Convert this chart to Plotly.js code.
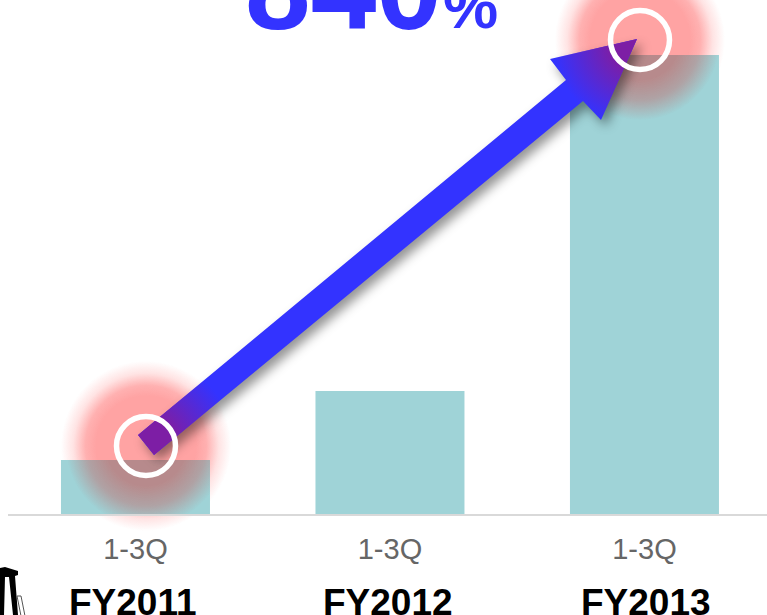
<!DOCTYPE html>
<html><head><meta charset="utf-8">
<script src="https://cdn.plot.ly/plotly-3.0.1.min.js"></script>
<style>html,body{margin:0;padding:0;background:#fff;overflow:hidden}</style></head>
<body><div id="chart" style="width:767px;height:615px"></div>
<script>
const categories = ['FY2011', 'FY2012', 'FY2013'];
const values = [100, 228, 850];
const tickLabels = ['1-3Q', '1-3Q', '1-3Q'];
const growthText = '840';
const W = 767, H = 615, L = 8, B = 101;
const glowCentres = [[146, 446], [640, 40]];
const barRects = [[61, 460, 149, 54], [570, 55, 149, 459]];
const labelShift = [-2, -2, 2];

function layerCanvas() {
  const c = document.createElement('canvas'); c.width = W; c.height = H;
  return c;
}
function belowGlow() {
  const c = layerCanvas(), g = c.getContext('2d');
  glowCentres.forEach(([x, y]) => {
    const r = g.createRadialGradient(x, y, 50, x, y, 85);
    r.addColorStop(0, 'rgba(255,163,163,1)');
    r.addColorStop(0.3, 'rgba(255,163,163,0.85)');
    r.addColorStop(0.65, 'rgba(255,163,163,0.3)');
    r.addColorStop(1, 'rgba(255,163,163,0)');
    g.fillStyle = r; g.fillRect(x - 95, y - 95, 190, 190);
  });
  return c.toDataURL();
}
function aboveLayer() {
  const c = layerCanvas(), g = c.getContext('2d');
  glowCentres.forEach(([x, y], i) => {
    const b = barRects[i];
    g.save(); g.beginPath(); g.rect(b[0], b[1], b[2], b[3]); g.clip();
    const r = g.createRadialGradient(x, y, 40, x, y, 80);
    r.addColorStop(0, 'rgba(200,90,90,0.6)');
    r.addColorStop(0.5, 'rgba(200,90,90,0.4)');
    r.addColorStop(1, 'rgba(200,90,90,0)');
    g.fillStyle = r; g.fillRect(x - 90, y - 90, 180, 180);
    g.restore();
  });
  const pts = [[138,435],[566,80],[550,59],[637,39],[601,120],[583,101],[154,455]];
  const path = () => { g.beginPath(); pts.forEach((p, i) => i ? g.lineTo(p[0], p[1]) : g.moveTo(p[0], p[1])); g.closePath(); };
  g.save();
  g.shadowColor = 'rgba(0,0,0,0.42)'; g.shadowBlur = 11; g.shadowOffsetX = 5; g.shadowOffsetY = 6;
  g.fillStyle = '#3333ff'; path(); g.fill();
  g.restore();
  g.save(); path(); g.clip();
  glowCentres.forEach(([x, y]) => {
    const r = g.createRadialGradient(x, y, 30, x, y, 88);
    r.addColorStop(0, 'rgba(125,30,165,1)');
    r.addColorStop(1, 'rgba(125,30,165,0)');
    g.fillStyle = r; g.fillRect(x - 90, y - 90, 180, 180);
  });
  g.restore();
  return c.toDataURL();
}
const fullImage = (src, layer) => ({source: src, xref: 'paper', yref: 'paper', layer,
  x: -L / (W - L), y: 1, sizex: W / (W - L), sizey: H / (H - B),
  xanchor: 'left', yanchor: 'top', sizing: 'stretch'});
const px = x => (x - L) / (W - L);
const py = y => (514 - y) / 514;
const fyAnn = categories.map((t, i) => ({text: t, x: i, xref: 'x', xshift: labelShift[i], yref: 'paper', y: py(615),
  showarrow: false, yanchor: 'bottom', yshift: -10, font: {family: 'Liberation Sans', size: 37, color: '#000', weight: 700}}));
const rings = glowCentres.map(([x, y]) => ({type: 'circle', xref: 'paper', yref: 'paper', layer: 'above',
  x0: px(x - 29.5), x1: px(x + 29.5), y0: py(y + 29.5), y1: py(y - 29.5),
  line: {color: '#fff', width: 5.5}, fillcolor: 'rgba(0,0,0,0)'}));
const polyPath = pts => 'M' + pts.map(p => px(p[0]) + ',' + py(p[1])).join(' L') + ' Z';
const towerShapes = [
  {type: 'path', xref: 'paper', yref: 'paper', layer: 'above', fillcolor: '#000', line: {width: 0},
   path: polyPath([[0,568],[5,567],[18,571],[18,575],[15,576],[18,615],[13,615],[9,577],[5,577],[4,615],[0,615]])},
  {type: 'path', xref: 'paper', yref: 'paper', layer: 'above', fillcolor: 'rgba(0,0,0,0)', line: {color: '#555', width: 1},
   path: polyPath([[17,596],[21,596],[25,616],[21,616]])}
];
Plotly.newPlot('chart', [{type: 'bar', x: [0, 1, 2], y: values, marker: {color: '#9fd3d7', line: {width: 0}}, width: 0.5855, hoverinfo: 'skip'}], {
  width: W, height: H, margin: {l: L, r: 0, t: 0, b: B, pad: 0}, paper_bgcolor: '#fff', plot_bgcolor: 'rgba(0,0,0,0)', showlegend: false,
  xaxis: {range: [-0.5009, 2.4815], tickmode: 'array', tickvals: [0, 1, 2], ticktext: tickLabels, showgrid: false, zeroline: false,
    showline: true, linecolor: '#d9d9d9', linewidth: 2, ticks: '', ticklabelstandoff: 8,
    tickfont: {family: 'Liberation Sans', size: 29, color: '#666666'}},
  yaxis: {range: [0, 952], visible: false, fixedrange: true},
  images: [fullImage(belowGlow(), 'below'), fullImage(aboveLayer(), 'above')],
  shapes: rings.concat(towerShapes),
  annotations: fyAnn.concat([
    {text: growthText, xref: 'paper', yref: 'paper', x: px(243), y: py(30), xanchor: 'left', yanchor: 'bottom', yshift: -26, showarrow: false, font: {family: 'Liberation Sans', size: 118, color: '#3333ff', weight: 700}},
    {text: '%', xref: 'paper', yref: 'paper', x: px(441), y: py(30), xanchor: 'left', yanchor: 'bottom', yshift: -13, showarrow: false, font: {family: 'Liberation Sans', size: 62, color: '#3333ff', weight: 700}}
  ])
}, {staticPlot: true});
</script></body></html>
